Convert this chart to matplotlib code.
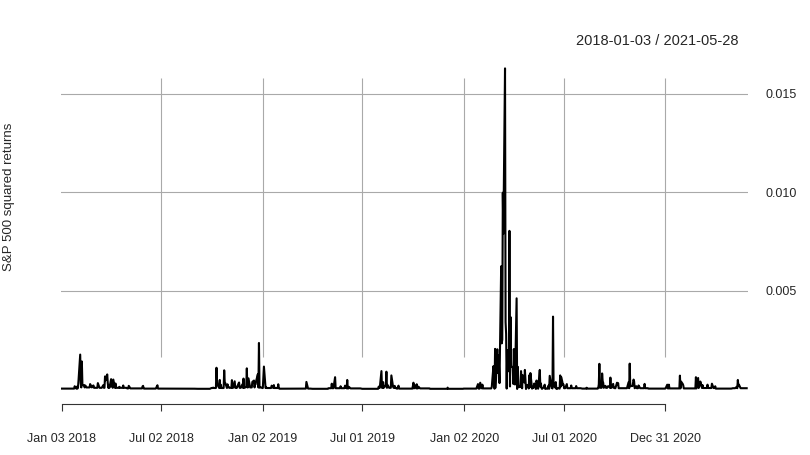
import numpy as np
import pandas as pd
import matplotlib
matplotlib.use("Agg")
import matplotlib.pyplot as plt
import matplotlib.dates as mdates

# trading-day index of the series
start_date = "2018-01-03"
end_date = "2021-05-28"

# typical quiet-day level per month (Jan 2018 .. May 2021), read off the baseline
monthly_level = [
    2e-5, 8e-5, 6e-5, 6e-5, 3e-5, 2e-5, 2e-5, 1.5e-5, 1e-5, 5e-5, 6e-5, 8e-5,   # 2018
    5e-5, 1.5e-5, 2e-5, 1e-5, 4e-5, 3e-5, 1e-5, 6e-5, 2e-5, 3e-5, 1e-5, 1e-5,  # 2019
    2e-5, 3e-5, 4e-4, 1e-4, 8e-5, 8e-5, 4e-5, 2e-5, 6e-5, 4e-5, 4e-5, 2e-5,    # 2020
    3e-5, 3e-5, 5e-5, 2e-5, 4e-5,                                              # 2021
]

# days with visible moves (squared daily returns)
spike_dates = [
    "2018-01-26", "2018-01-30", "2018-02-02", "2018-02-05", "2018-02-06", "2018-02-08",
    "2018-02-09", "2018-02-12", "2018-02-14", "2018-02-15", "2018-02-23", "2018-02-27",
    "2018-02-28", "2018-03-01", "2018-03-09", "2018-03-19", "2018-03-22", "2018-03-23",
    "2018-03-26", "2018-03-27", "2018-03-29", "2018-04-02", "2018-04-03", "2018-04-04",
    "2018-04-06", "2018-04-10", "2018-04-17", "2018-04-24", "2018-05-04", "2018-05-29",
    "2018-05-30", "2018-06-25",
    "2018-10-04", "2018-10-10", "2018-10-11", "2018-10-12", "2018-10-16", "2018-10-18",
    "2018-10-24", "2018-10-25", "2018-10-26", "2018-10-30", "2018-10-31", "2018-11-01",
    "2018-11-07", "2018-11-12", "2018-11-15", "2018-11-19", "2018-11-20", "2018-11-26",
    "2018-11-28", "2018-12-03", "2018-12-04", "2018-12-07", "2018-12-14", "2018-12-17",
    "2018-12-19", "2018-12-20", "2018-12-21", "2018-12-24", "2018-12-26", "2018-12-27",
    "2018-12-31",
    "2019-01-03", "2019-01-04", "2019-01-08", "2019-01-18", "2019-01-22", "2019-01-30",
    "2019-03-22", "2019-05-07", "2019-05-13", "2019-05-23", "2019-05-31", "2019-06-04",
    "2019-06-07", "2019-07-31", "2019-08-01", "2019-08-05", "2019-08-08", "2019-08-12",
    "2019-08-13", "2019-08-14", "2019-08-16", "2019-08-23", "2019-08-26", "2019-08-29",
    "2019-09-04", "2019-09-05", "2019-10-01", "2019-10-02", "2019-10-04", "2019-10-08",
    "2019-10-11", "2019-12-03",
    "2020-01-27", "2020-01-31", "2020-02-04", "2020-02-21", "2020-02-24", "2020-02-25",
    "2020-02-26", "2020-02-27", "2020-02-28", "2020-03-02", "2020-03-03", "2020-03-04",
    "2020-03-05", "2020-03-06", "2020-03-09", "2020-03-10", "2020-03-11", "2020-03-12",
    "2020-03-13", "2020-03-16", "2020-03-17", "2020-03-18", "2020-03-19", "2020-03-20",
    "2020-03-23", "2020-03-24", "2020-03-25", "2020-03-26", "2020-03-27", "2020-03-30",
    "2020-03-31", "2020-04-01", "2020-04-02", "2020-04-03", "2020-04-06", "2020-04-07",
    "2020-04-08", "2020-04-09", "2020-04-13", "2020-04-14", "2020-04-15", "2020-04-16",
    "2020-04-17", "2020-04-20", "2020-04-21", "2020-04-22", "2020-04-23", "2020-04-24",
    "2020-04-27", "2020-04-28", "2020-04-29", "2020-04-30", "2020-05-01", "2020-05-04",
    "2020-05-05", "2020-05-06", "2020-05-07", "2020-05-08", "2020-05-11", "2020-05-12",
    "2020-05-13", "2020-05-14", "2020-05-15", "2020-05-18", "2020-05-19", "2020-05-20",
    "2020-05-21", "2020-05-22", "2020-05-26", "2020-05-27", "2020-05-28", "2020-05-29",
    "2020-06-01", "2020-06-02", "2020-06-03", "2020-06-04", "2020-06-05", "2020-06-08",
    "2020-06-09", "2020-06-10", "2020-06-11", "2020-06-12", "2020-06-15", "2020-06-16",
    "2020-06-17", "2020-06-18", "2020-06-19", "2020-06-22", "2020-06-23", "2020-06-24",
    "2020-06-25", "2020-06-26", "2020-06-29", "2020-06-30",
    "2020-07-06", "2020-07-14", "2020-07-23", "2020-08-11", "2020-09-02", "2020-09-03",
    "2020-09-04", "2020-09-08", "2020-09-09", "2020-09-10", "2020-09-14", "2020-09-18",
    "2020-09-21", "2020-09-23", "2020-09-28", "2020-10-05", "2020-10-06", "2020-10-07",
    "2020-10-26", "2020-10-28", "2020-10-29", "2020-10-30", "2020-11-02", "2020-11-03",
    "2020-11-04", "2020-11-05", "2020-11-09", "2020-11-13", "2020-11-24",
    "2021-01-04", "2021-01-07", "2021-01-27", "2021-01-29", "2021-02-01", "2021-02-02",
    "2021-02-25", "2021-03-01", "2021-03-03", "2021-03-04", "2021-03-05", "2021-03-09",
    "2021-03-18", "2021-03-26", "2021-04-01", "2021-05-10", "2021-05-12", "2021-05-13",
    "2021-05-14",
]
spike_values = [
    1.4e-4, 1.2e-4, 4.5e-4, 1.75e-3, 3.0e-4, 1.4e-3,
    2.2e-4, 1.9e-4, 1.8e-4, 1.5e-4, 2.5e-4, 1.6e-4,
    1.2e-4, 1.8e-4, 3.0e-4, 2.0e-4, 6.4e-4, 4.4e-4,
    7.4e-4, 3.0e-4, 1.9e-4, 5.0e-4, 1.6e-4, 1.3e-4,
    4.8e-4, 2.8e-4, 1.1e-4, 1.8e-4, 1.6e-4, 1.3e-4,
    1.6e-4, 1.9e-4,
    7e-5, 1.08e-3, 4.2e-4, 2.0e-4, 4.6e-4, 2.1e-4,
    9.5e-4, 3.4e-4, 3.0e-4, 2.4e-4, 1.2e-4, 1.1e-4,
    4.5e-4, 3.9e-4, 1.1e-4, 2.8e-4, 3.3e-4, 2.4e-4,
    5.3e-4, 1.2e-4, 1.05e-3, 5.4e-4, 3.6e-4, 4.3e-4,
    2.4e-4, 2.5e-4, 4.2e-4, 7.5e-4, 2.34e-3, 7e-5,
    7e-5,
    6.3e-4, 1.14e-3, 9e-5, 1.7e-4, 2.0e-4, 2.4e-4,
    3.6e-4, 2.7e-4, 6.0e-4, 1.4e-4, 1.7e-4, 4.6e-4,
    1.1e-4, 1.2e-4, 8e-5, 9.1e-4, 3.5e-4, 1.5e-4,
    2.2e-4, 8.8e-4, 2.1e-4, 6.9e-4, 1.2e-4, 1.6e-4,
    1.2e-4, 1.7e-4, 1.5e-4, 3.2e-4, 2.0e-4, 2.4e-4,
    1.2e-4, 7e-5,
    2.5e-4, 3.2e-4, 2.2e-4, 1.1e-4, 1.16e-3, 9.5e-4,
    1.5e-5, 2.04e-3, 7e-5, 2.02e-3, 8.1e-4, 1.7e-3,
    1.19e-3, 3.0e-4, 6.24e-3, 2.32e-3, 2.51e-3, 9.98e-3,
    7.89e-3, 1.63e-2, 3.4e-3, 2.8e-3, 2.2e-5, 1.97e-3,
    9.0e-4, 8.04e-3, 1.3e-4, 3.66e-3, 1.17e-3, 1.08e-3,
    2.6e-4, 2.03e-3, 5.1e-4, 2.3e-4, 4.61e-3, 3e-6,
    1.13e-3, 2.1e-4, 1.0e-4, 9.1e-4, 4.9e-4, 3.4e-5,
    7.0e-4, 3.3e-4, 9.7e-4, 5.2e-4, 1e-6, 1.9e-4,
    2.1e-4, 2.7e-5, 7.0e-4, 8.5e-5, 8.1e-4, 1.8e-5,
    8.1e-5, 4.9e-5, 1.3e-4, 2.8e-4, 1e-6, 4.3e-4,
    3.1e-4, 1.3e-4, 1.5e-5, 9.7e-4, 1.1e-4, 2.8e-4,
    6.1e-5, 6e-6, 1.5e-4, 2.2e-4, 4.4e-6, 2.3e-5,
    1.4e-5, 6.7e-5, 1.8e-4, 1.2e-5, 6.7e-4, 1.4e-4,
    6.1e-5, 2.8e-5, 3.68e-3, 1.7e-4, 6.9e-5, 3.5e-4,
    1.3e-5, 4e-7, 3.1e-5, 4.2e-5, 1.8e-5, 6.9e-4,
    1.2e-4, 6.0e-4, 2.1e-4, 2.3e-4,
    2.5e-4, 1.8e-4, 1.5e-4, 6.4e-5, 2.4e-4, 1.28e-3,
    6.6e-5, 7.9e-4, 4.0e-4, 3.1e-4, 1.6e-4, 1.3e-4,
    1.4e-4, 5.8e-4, 2.6e-4, 3.2e-4, 2.0e-4, 3.0e-4,
    3.5e-4, 1.29e-3, 1.4e-4, 1.5e-4, 1.5e-4, 3.1e-4,
    4.8e-4, 3.8e-4, 1.4e-4, 1.8e-4, 2.6e-4,
    2.2e-4, 2.2e-4, 6.8e-4, 3.8e-4, 2.6e-4, 1.9e-4,
    6.0e-4, 5.6e-4, 1.7e-4, 1.8e-4, 3.8e-4, 2.0e-4,
    2.2e-4, 2.7e-4, 1.4e-4, 1.1e-4, 4.6e-4, 1.5e-4,
    2.2e-4,
]

tick_dates = ["2018-01-03", "2018-07-02", "2019-01-02", "2019-07-01",
              "2020-01-02", "2020-07-01", "2020-12-31"]
tick_labels = ["Jan 03 2018", "Jul 02 2018", "Jan 02 2019", "Jul 01 2019",
               "Jan 02 2020", "Jul 01 2020", "Dec 31 2020"]
y_ticks = [0.005, 0.010, 0.015]
y_tick_labels = ["0.005", "0.010", "0.015"]

# build the series
days = pd.bdate_range(start_date, end_date)
month_idx = (days.year - 2018) * 12 + days.month - 1
sq_ret = pd.Series(np.array(monthly_level)[month_idx], index=days)
sq_ret.loc[pd.to_datetime(spike_dates)] = spike_values

plt.rcParams["font.family"] = ["Liberation Sans", "DejaVu Sans"]
text_col = "#262626"
grid_col = "#a9a9a9"

fig = plt.figure(figsize=(8.1, 4.55), dpi=100)
W, H = 810, 455
# panel: x 61..748 px, y 62..404 px
ax = fig.add_axes([61 / W, 1 - 404 / H, (748 - 61) / W, (404 - 62) / H])

px_per_unit = 19670.0  # pixels per unit of y
zero_px = 389.0
ax.set_ylim((zero_px - 404) / px_per_unit, (zero_px - 62) / px_per_unit)
t0, t1 = pd.Timestamp(start_date), pd.Timestamp(end_date)
ax.set_xlim(t0 - pd.Timedelta(days=1.8), t1 + pd.Timedelta(days=2.4))

# grid
for yv in y_ticks:
    ax.axhline(yv, color=grid_col, lw=0.8, zorder=1)
tick_ts = pd.to_datetime(tick_dates)
ax.vlines(tick_ts[1:], (zero_px - 357) / px_per_unit, (zero_px - 78) / px_per_unit,
          color=grid_col, lw=0.8, zorder=1)

ax.plot(sq_ret.index, sq_ret.values, color="black", lw=1.5, zorder=3)

for s in ["top", "left", "right"]:
    ax.spines[s].set_visible(False)
ax.spines["bottom"].set_bounds(mdates.date2num(tick_ts[0]), mdates.date2num(tick_ts[-1]))
ax.spines["bottom"].set_color("#333333")
ax.spines["bottom"].set_linewidth(0.8)

ax.set_xticks(tick_ts)
ax.set_xticklabels(tick_labels)
ax.tick_params(axis="x", direction="out", length=5, width=0.8, color="#333333",
               pad=16, labelsize=9, labelcolor=text_col)

ax.yaxis.tick_right()
ax.set_yticks(y_ticks)
ax.set_yticklabels(y_tick_labels)
ax.tick_params(axis="y", length=0, pad=12.5, labelsize=9, labelcolor=text_col)
for lab in ax.get_yticklabels():
    lab.set_horizontalalignment("left")

fig.text(738 / W, 1 - 41 / H, "2018-01-03 / 2021-05-28", ha="right", va="center",
         fontsize=10.5, color=text_col)
fig.text(9 / W, 1 - 197 / H, "S&P 500 squared returns", rotation=90, ha="center",
         va="center", fontsize=9.5, color=text_col)

fig.savefig("out.png", dpi=100)
